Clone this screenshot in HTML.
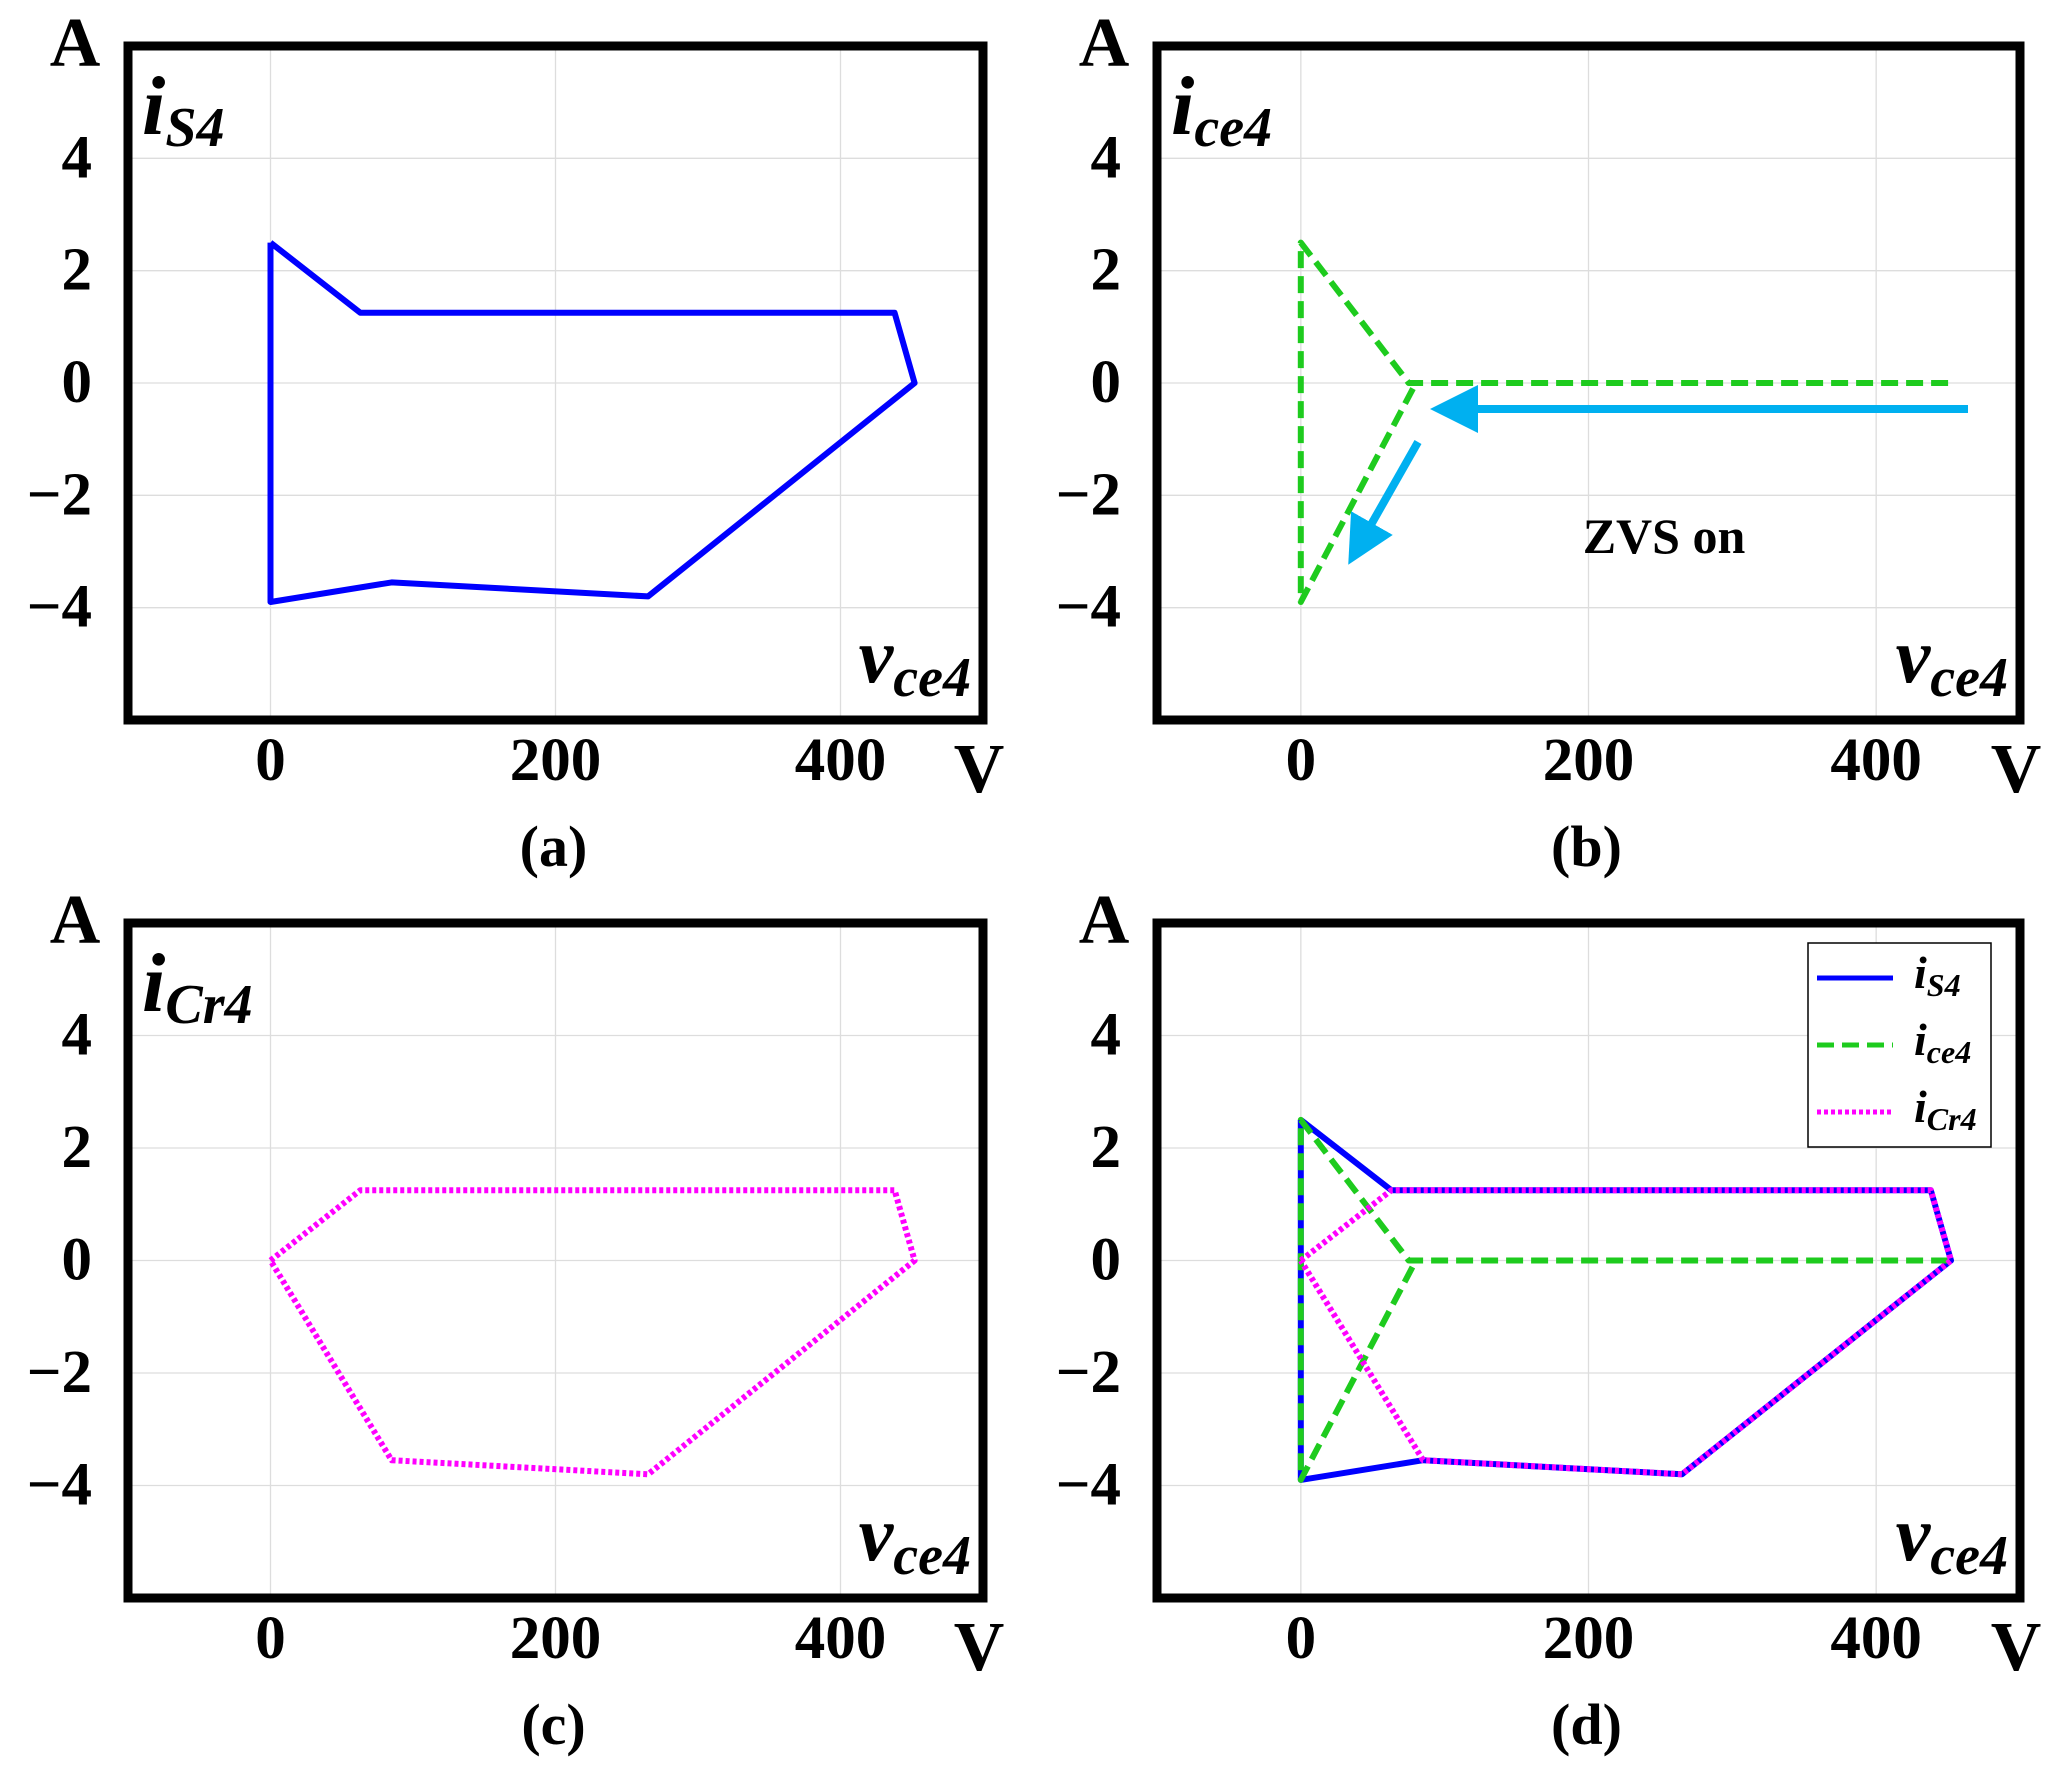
<!DOCTYPE html>
<html><head><meta charset="utf-8">
<style>
html,body{margin:0;padding:0;background:#fff;}
svg{display:block;font-family:"Liberation Serif",serif;}
</style></head>
<body>
<svg id="fig" width="2050" height="1765" viewBox="0 0 2050 1765" xmlns="http://www.w3.org/2000/svg">
<defs>
<marker id="arr" markerWidth="6" markerHeight="6" refX="1" refY="3" orient="auto" markerUnits="strokeWidth"><path d="M0,0 L6,3 L0,6 z" fill="#00b0f0"/></marker>
</defs>
</svg>
<script>
// data
const xTicks = [0, 200, 400];
const yTicks = [-4, -2, 0, 2, 4];
const xDomain = [-100, 500];
const yDomain = [-6, 6];
const iS4_v = [0, 63, 438, 452, 265, 85, 0, 0];
const iS4_i = [2.5, 1.25, 1.25, 0, -3.8, -3.55, -3.9, 2.5];
const ice4_v = [450, 75, 0, 0, 80];
const ice4_i = [0, 0, 2.5, -3.9, 0];
const iCr4_v = [0, 63, 438, 452, 265, 85, 0];
const iCr4_i = [0, 1.25, 1.25, 0, -3.8, -3.55, 0];

const NS = "http://www.w3.org/2000/svg";
const svg = document.getElementById('fig');
function mk(tag, attrs, parent){
  const e = document.createElementNS(NS, tag);
  for (const k in attrs) e.setAttribute(k, attrs[k]);
  (parent || svg).appendChild(e);
  return e;
}
const panels = [
  {id:'a', L:128, T:46, R:983, B:720, title:['i','S4'], series:['s']},
  {id:'b', L:1157, T:46, R:2020, B:720, title:['i','ce4'], series:['g']},
  {id:'c', L:128, T:923, R:983, B:1598, title:['i','Cr4'], series:['m']},
  {id:'d', L:1157, T:923, R:2020, B:1598, title:null, series:['s','g','m']}
];
const styles = {
  s:{v:iS4_v, i:iS4_i, stroke:'#0000ff', dash:'', name:'is4-line'},
  g:{v:ice4_v, i:ice4_i, stroke:'#1ecb1e', dash:'17 8', name:'ice4-line'},
  m:{v:iCr4_v, i:iCr4_i, stroke:'#ff00ff', dash:'4 3', name:'icr4-line'}
};
panels.forEach(p=>{
  const g = mk('g', {});
  
  
  const sx = v => p.L + (v - xDomain[0]) / (xDomain[1] - xDomain[0]) * (p.R - p.L);
  const sy = v => p.B - (v - yDomain[0]) / (yDomain[1] - yDomain[0]) * (p.B - p.T);
  xTicks.forEach(t=>{
    const l = mk('line', {x1:sx(t), x2:sx(t), y1:p.T, y2:p.B, stroke:'#dddddd', 'stroke-width':1.3}, g);
    
    
    const tx = mk('text', {x:sx(t), y:p.B + 60, 'text-anchor':'middle', 'font-size':61, 'font-weight':'bold'}, g);
    tx.textContent = t;
    
    
  });
  yTicks.forEach(t=>{
    const l = mk('line', {x1:p.L, x2:p.R, y1:sy(t), y2:sy(t), stroke:'#dddddd', 'stroke-width':1.3}, g);
    
    
    const tx = mk('text', {x:p.L - 36, y:sy(t) + 19, 'text-anchor':'end', 'font-size':61, 'font-weight':'bold'}, g);
    tx.textContent = t < 0 ? '\u2212' + Math.abs(t) : t;
    
    
  });
  p.series.forEach(k=>{
    const s = styles[k];
    const d = s.v.map((v, j)=>(j ? 'L' : 'M') + sx(v).toFixed(1) + ',' + sy(s.i[j]).toFixed(1)).join(' ');
    const a = {d:d, fill:'none', stroke:s.stroke, 'stroke-width':6, 'stroke-linejoin':'round'};
    if (s.dash) a['stroke-dasharray'] = s.dash;
    const path = mk('path', a, g);
    
    
  });
  const box = mk('rect', {x:p.L, y:p.T, width:p.R - p.L, height:p.B - p.T, fill:'none', stroke:'#000', 'stroke-width':9}, g);
  
  
  const A = mk('text', {x:p.L - 53, y:p.T + 20, 'text-anchor':'middle', 'font-size':70, 'font-weight':'bold'}, g);
  A.textContent = 'A';
  
  
  const V = mk('text', {x:p.R - 4, y:p.B + 72, 'text-anchor':'middle', 'font-size':70, 'font-weight':'bold'}, g);
  V.textContent = 'V';
  
  
  const cap = mk('text', {x:(p.L + p.R) / 2 - 2, y:p.B + 146, 'text-anchor':'middle', 'font-size':58, 'font-weight':'bold'}, g);
  cap.textContent = '(' + p.id + ')';
  
  
  const vx = mk('text', {x:p.R - 12, y:p.B - 38, 'text-anchor':'end', 'font-style':'italic', 'font-weight':'bold', 'font-size':78}, g);
  vx.innerHTML = 'v<tspan font-size="56" dy="14">ce4</tspan>';
  
  
  if (p.title){
    const ti = mk('text', {x:p.L + 14, y:p.T + 88, 'font-style':'italic', 'font-weight':'bold', 'font-size':84}, g);
    ti.innerHTML = p.title[0] + '<tspan font-size="56" dy="12">' + p.title[1] + '</tspan>';
    
    
  }
});
// arrows & annotation in panel b
const ar1 = mk('line', {x1:1968, y1:409, x2:1470, y2:409, stroke:'#00b0f0', 'stroke-width':8, 'marker-end':'url(#arr)'});


const ar2 = mk('line', {x1:1418, y1:442, x2:1368, y2:530, stroke:'#00b0f0', 'stroke-width':8, 'marker-end':'url(#arr)'});


const zvs = mk('text', {x:1664, y:553, 'text-anchor':'middle', 'font-size':50, 'font-weight':'bold'});
zvs.textContent = 'ZVS on';


// legend in panel d
const lg = mk('g', {});


const lr = mk('rect', {x:1808, y:943, width:183, height:204, fill:'#fff', stroke:'#000', 'stroke-width':1.5}, lg);


const legendKeys = ['s', 'g', 'm'];
const legendLabels = [['i','S4'], ['i','ce4'], ['i','Cr4']];
legendKeys.forEach((k, j)=>{
  const s = styles[k];
  const y = 978 + j * 67;
  const a = {x1:1817, x2:1893, y1:y, y2:y, stroke:s.stroke, 'stroke-width':5};
  if (s.dash) a['stroke-dasharray'] = s.dash;
  const l = mk('line', a, lg);
  
  
  const t = mk('text', {x:1914, y:y + 10, 'font-style':'italic', 'font-weight':'bold', 'font-size':46}, lg);
  t.innerHTML = legendLabels[j][0] + '<tspan font-size="32" dy="8">' + legendLabels[j][1] + '</tspan>';
  
  
});
</script>
</body></html>
